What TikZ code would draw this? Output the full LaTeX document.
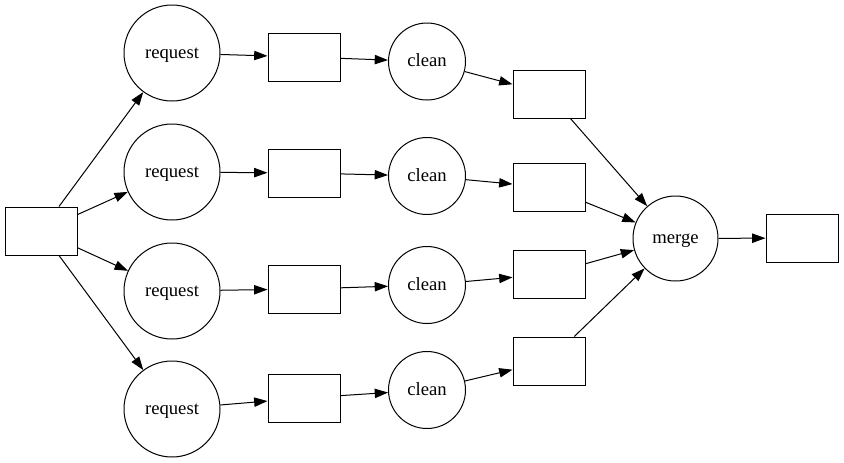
\documentclass[tikz,border=0pt]{standalone}
\usepackage{fontspec}
\setmainfont{Liberation Serif}
\usepackage{tikz}
\usetikzlibrary{arrows.meta, positioning, calc}

\tikzset{
  box/.style={draw, rectangle, line width=0.75pt, minimum width=54pt, minimum height=36pt, inner sep=0pt},
  task/.style={draw, circle, line width=0.75pt, inner sep=0pt, text height=1.75ex, text depth=0pt, font=\fontsize{14}{16}\selectfont},
  edge/.style={line width=0.75pt, -{Triangle[length=10pt, width=7pt]}}
}

\begin{document}
\begin{tikzpicture}[x=0.75pt, y=-0.75pt]
  \useasboundingbox (0,0) rectangle (844,462);

  % Source
  \node[box] (src) at (41,231) {};

  % Requests
  \node[task, minimum size=72pt] (req1) at (172,53) {request};
  \node[task, minimum size=72pt] (req2) at (172,172) {request};
  \node[task, minimum size=72pt] (req3) at (172,291) {request};
  \node[task, minimum size=72pt] (req4) at (172,409) {request};

  % Raw results
  \node[box] (raw1) at (304,57) {};
  \node[box] (raw2) at (304,173) {};
  \node[box] (raw3) at (304,289) {};
  \node[box] (raw4) at (304,398) {};

  % Cleaning
  \node[task, minimum size=57.75pt] (cln1) at (427,61.5) {clean};
  \node[task, minimum size=57.75pt] (cln2) at (427,176) {clean};
  \node[task, minimum size=57.75pt] (cln3) at (427,285) {clean};
  \node[task, minimum size=57.75pt] (cln4) at (427,390) {clean};

  % Clean results
  \node[box] (out1) at (549,94) {};
  \node[box] (out2) at (549,187.5) {};
  \node[box] (out3) at (549,274) {};
  \node[box] (out4) at (549,361) {};

  % Merge and final
  \node[task, minimum size=63.75pt] (mrg) at (675.5,238.5) {merge};
  \node[box] (fin) at (802,238) {};

  % Edges
  \draw[edge] (src) -- (req1);
  \draw[edge] (src) -- (req2);
  \draw[edge] (src) -- (req3);
  \draw[edge] (src) -- (req4);

  \draw[edge] (req1) -- (raw1);
  \draw[edge] (req2) -- (raw2);
  \draw[edge] (req3) -- (raw3);
  \draw[edge] (req4) -- (raw4);

  \draw[edge] (raw1) -- (cln1);
  \draw[edge] (raw2) -- (cln2);
  \draw[edge] (raw3) -- (cln3);
  \draw[edge] (raw4) -- (cln4);

  \draw[edge] (cln1) -- (out1);
  \draw[edge] (cln2) -- (out2);
  \draw[edge] (cln3) -- (out3);
  \draw[edge] (cln4) -- (out4);

  \draw[edge] (out1) -- (mrg);
  \draw[edge] (out2) -- (mrg);
  \draw[edge] (out3) -- (mrg);
  \draw[edge] (out4) -- (mrg);

  \draw[edge] (mrg) -- (fin);
\end{tikzpicture}
\end{document}
